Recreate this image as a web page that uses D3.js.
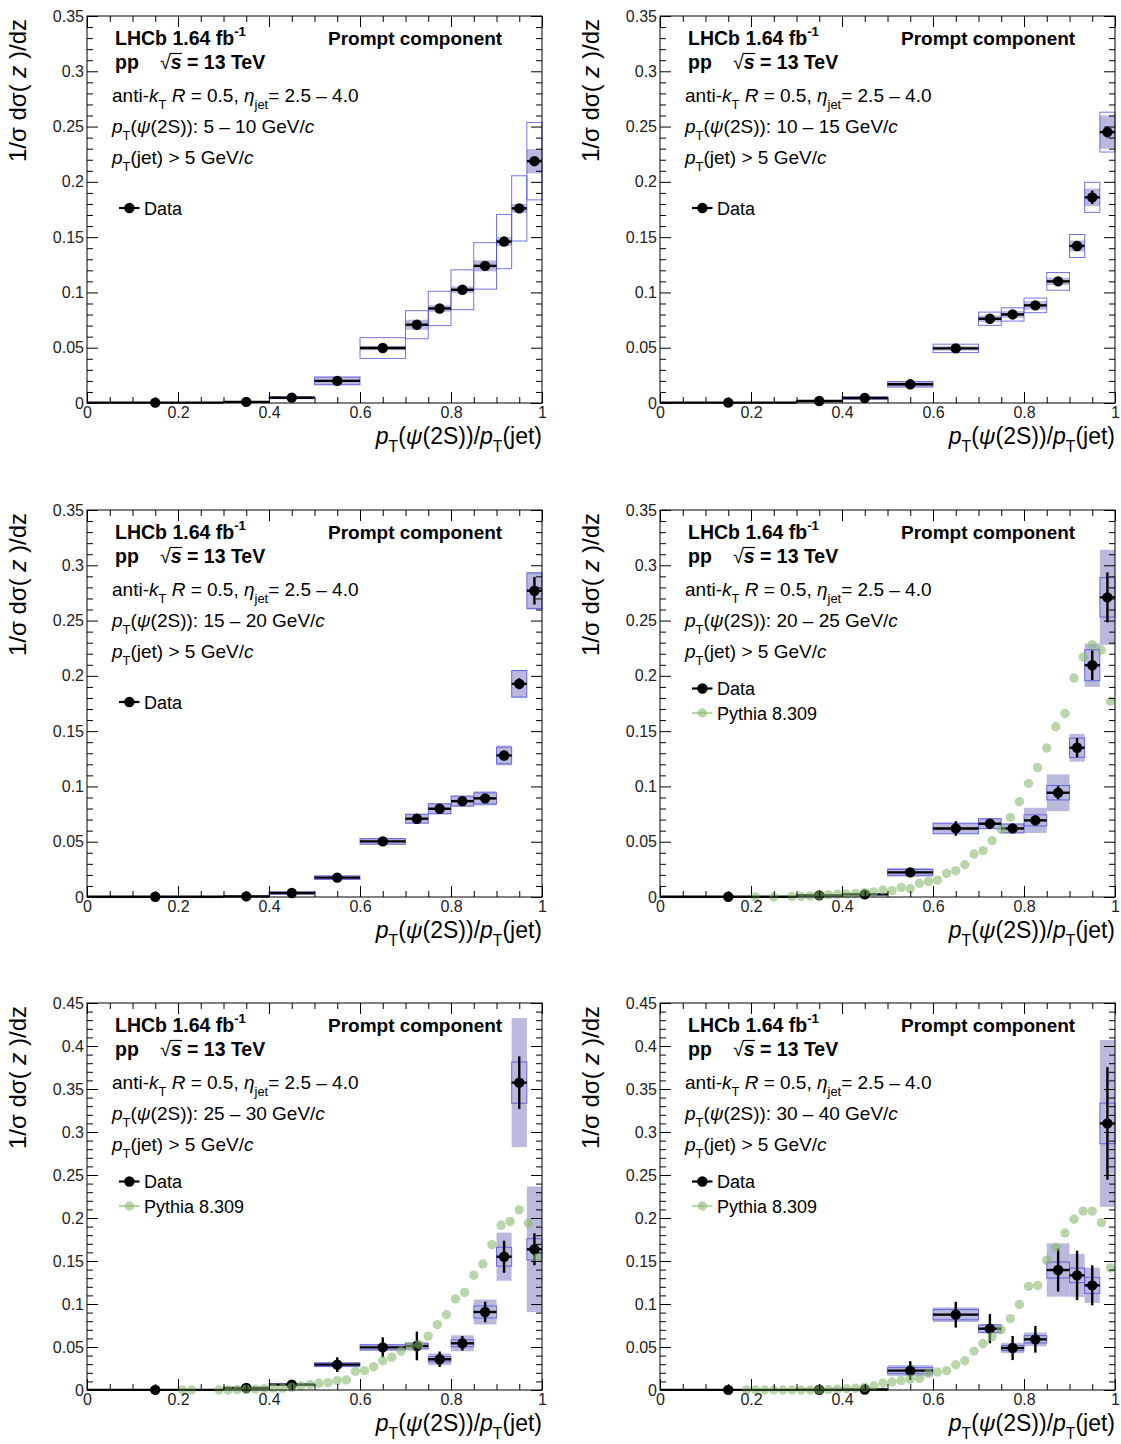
<!DOCTYPE html>
<html><head><meta charset="utf-8">
<script src="https://cdn.jsdelivr.net/npm/d3@7"></script>
<style>
body{margin:0;background:#fff}
svg{display:block}
text{font-family:"Liberation Sans",Arial,Helvetica,sans-serif}
</style>
</head><body>
<svg id="c" width="1121" height="1444"></svg>
<script>
// ---------------- data ----------------
const binEdges = [0, 0.3, 0.4, 0.5, 0.6, 0.7, 0.75, 0.8, 0.85, 0.9, 0.9333, 0.9667, 1.0];
const ptRanges = ["5 – 10", "10 – 15", "15 – 20", "20 – 25", "25 – 30", "30 – 40"];
const yMaxima = [0.35, 0.35, 0.35, 0.35, 0.45, 0.45];
const xTickLabels = ["0", "0.2", "0.4", "0.6", "0.8", "1"];
const yTickLabels35 = ["0", "0.05", "0.1", "0.15", "0.2", "0.25", "0.3", "0.35"];
const yTickLabels45 = ["0", "0.05", "0.1", "0.15", "0.2", "0.25", "0.3", "0.35", "0.4", "0.45"];

const values5to10  = [0.0003, 0.001, 0.0048, 0.020, 0.0497, 0.0708, 0.0855, 0.1024, 0.124, 0.146, 0.176, 0.2187];
const stat5to10    = [0, 0, 0.0005, 0.001, 0.0015, 0.002, 0.002, 0.0025, 0.003, 0.003, 0.0035, 0.004];
const sysFill5to10 = [0, 0.0003, 0.0012, 0.0038, 0.002, 0.0045, 0.003, 0.003, 0.005, 0.004, 0.004, 0.011];
const sysOpen5to10 = [0, 0.0002, 0.0008, 0.0035, 0.0094, 0.0127, 0.0155, 0.018, 0.021, 0.0245, 0.0295, 0.035];

const values10to15  = [0.0003, 0.0018, 0.0045, 0.0169, 0.0494, 0.0762, 0.0801, 0.0883, 0.110, 0.142, 0.186, 0.245];
const stat10to15    = [0, 0.0003, 0.0005, 0.001, 0.0015, 0.002, 0.002, 0.002, 0.003, 0.004, 0.006, 0.005];
const sysFill10to15 = [0, 0.0005, 0.001, 0.0025, 0.002, 0.003, 0.003, 0.0038, 0.0033, 0.005, 0.008, 0.015];
const sysOpen10to15 = [0, 0.0005, 0.001, 0.0025, 0.0038, 0.006, 0.006, 0.0066, 0.008, 0.0104, 0.0136, 0.018];

const values15to20  = [0.0002, 0.0006, 0.0036, 0.0175, 0.0503, 0.0708, 0.0798, 0.0867, 0.0892, 0.128, 0.1928, 0.277];
const stat15to20    = [0, 0.0003, 0.0005, 0.001, 0.0015, 0.002, 0.002, 0.0025, 0.003, 0.004, 0.005, 0.0125];
const sysFill15to20 = [0, 0.0003, 0.001, 0.002, 0.003, 0.0045, 0.005, 0.005, 0.0065, 0.009, 0.0125, 0.017];
const sysOpen15to20 = [0, 0.0003, 0.001, 0.0015, 0.0025, 0.004, 0.0045, 0.0045, 0.005, 0.0075, 0.012, 0.016];

const values20to25  = [0.0002, 0.0015, 0.0024, 0.0223, 0.062, 0.0663, 0.062, 0.0693, 0.0943, 0.135, 0.2096, 0.271];
const stat20to25    = [0, 0.0005, 0.0008, 0.003, 0.0066, 0.004, 0.004, 0.0045, 0.006, 0.0087, 0.0134, 0.0226];
const sysFill20to25 = [0, 0.0003, 0.0008, 0.004, 0.005, 0.005, 0.0045, 0.0114, 0.0166, 0.0126, 0.0196, 0.043];
const sysOpen20to25 = [0, 0.0003, 0.0005, 0.0026, 0.0048, 0.0045, 0.004, 0.005, 0.0065, 0.0087, 0.014, 0.0178];

const values25to30  = [0.0002, 0.0023, 0.0062, 0.0295, 0.0496, 0.0512, 0.0357, 0.0543, 0.0907, 0.155, 0.3574, 0.1636];
const stat25to30    = [0, 0.001, 0.002, 0.0085, 0.0116, 0.0167, 0.009, 0.0085, 0.012, 0.0186, 0.0306, 0.0186];
const sysFill25to30 = [0, 0.0005, 0.001, 0.003, 0.004, 0.004, 0.0068, 0.0093, 0.0145, 0.028, 0.075, 0.073];
const sysOpen25to30 = [0, 0.0005, 0.001, 0.002, 0.003, 0.0033, 0.003, 0.004, 0.007, 0.011, 0.024, 0.0124];

const values30to40  = [0.0002, 0.0003, 0.0005, 0.0225, 0.0876, 0.0713, 0.0488, 0.0589, 0.1395, 0.1333, 0.1217, 0.310];
const stat30to40    = [0, 0.0005, 0.001, 0.011, 0.015, 0.017, 0.014, 0.0155, 0.025, 0.0287, 0.0233, 0.0655];
const sysFill30to40 = [0, 0.0003, 0.0005, 0.0065, 0.0085, 0.0055, 0.006, 0.008, 0.031, 0.025, 0.0205, 0.097];
const sysOpen30to40 = [0, 0.0003, 0.0005, 0.0035, 0.006, 0.0043, 0.003, 0.0043, 0.0093, 0.0085, 0.0093, 0.0236];

const pythiaX = [0.19, 0.21, 0.23, 0.25, 0.27, 0.29, 0.31, 0.33, 0.35, 0.37, 0.39, 0.41, 0.43, 0.45, 0.47, 0.49,
  0.51, 0.53, 0.55, 0.57, 0.59, 0.61, 0.63, 0.65, 0.67, 0.69, 0.71, 0.73, 0.75, 0.77, 0.79,
  0.81, 0.83, 0.85, 0.87, 0.89, 0.91, 0.93, 0.95, 0.97, 0.99];
const pythia20to25 = [null, 0.0, null, 0.0, null, 0.0005, 0.0005, 0.001, 0.0015, 0.002, 0.0025, 0.0027, 0.0033, 0.004, 0.0045, 0.0063,
  0.0057, 0.0087, 0.0075, 0.0123, 0.0141, 0.0153, 0.0214, 0.0238, 0.0292, 0.0389, 0.0419, 0.051, 0.061, 0.072, 0.0862,
  0.1028, 0.117, 0.1347, 0.154, 0.166, 0.198, 0.2168, 0.2282, 0.2234, 0.177];
const pythia25to30 = [null, 0.0, 0.0, null, null, 0.0, 0.0, 0.0005, 0.0008, 0.001, 0.0015, 0.0022, 0.0022, 0.003, 0.0047, 0.0062,
  0.0078, 0.0085, 0.0109, 0.0116, 0.0217, 0.0225, 0.0271, 0.034, 0.038, 0.045, 0.0504, 0.053, 0.0627, 0.076, 0.0875,
  0.106, 0.1135, 0.1335, 0.1465, 0.169, 0.1915, 0.196, 0.2095, 0.194, 0.1535];
const pythia30to40 = [0.0, 0.0, 0.0, 0.0, 0.0, 0.0, 0.0, 0.0, 0.0003, 0.0005, 0.001, 0.0015, 0.002, 0.003, 0.0047, 0.0078,
  0.0093, 0.0109, 0.0125, 0.0135, 0.0194, 0.0209, 0.0225, 0.0295, 0.034, 0.045, 0.054, 0.062, 0.07, 0.083, 0.0995,
  0.1205, 0.1215, 0.151, 0.166, 0.1825, 0.1985, 0.208, 0.208, 0.1946, 0.142];

// ---------------- layout ----------------
const colX = [87, 660];
const rowY = [16, 510, 1003];
const W = 455, H = 387;
const PY_FILL = "rgb(134,184,108)", PY_OP = 0.58;

const panels = [
  {range: ptRanges[0], ymax: yMaxima[0], yl: yTickLabels35, v: values5to10,  s: stat5to10,  f: sysFill5to10,  o: sysOpen5to10,  py: null},
  {range: ptRanges[1], ymax: yMaxima[1], yl: yTickLabels35, v: values10to15, s: stat10to15, f: sysFill10to15, o: sysOpen10to15, py: null},
  {range: ptRanges[2], ymax: yMaxima[2], yl: yTickLabels35, v: values15to20, s: stat15to20, f: sysFill15to20, o: sysOpen15to20, py: null},
  {range: ptRanges[3], ymax: yMaxima[3], yl: yTickLabels35, v: values20to25, s: stat20to25, f: sysFill20to25, o: sysOpen20to25, py: pythia20to25},
  {range: ptRanges[4], ymax: yMaxima[4], yl: yTickLabels45, v: values25to30, s: stat25to30, f: sysFill25to30, o: sysOpen25to30, py: pythia25to30},
  {range: ptRanges[5], ymax: yMaxima[5], yl: yTickLabels45, v: values30to40, s: stat30to40, f: sysFill30to40, o: sysOpen30to40, py: pythia30to40}
];

const svg = d3.select("#c");

function rich(g, x, y, segs, size, opts = {}) {
  const t = g.append("text").attr("x", x).attr("y", y).attr("font-size", size).attr("fill", "#000");
  if (opts.anchor) t.attr("text-anchor", opts.anchor);
  if (opts.weight) t.attr("font-weight", opts.weight);
  if (opts.transform) t.attr("transform", opts.transform);
  let shift = 0;
  segs.forEach(s => {
    const o = (typeof s === "string") ? {t: s} : s;
    const target = o.sub ? size * 0.36 : (o.sup ? -size * 0.42 : 0);
    const ts = t.append("tspan").text(o.t);
    if (target !== shift) { ts.attr("dy", (target - shift).toFixed(2)); shift = target; }
    if (o.sub || o.sup) ts.attr("font-size", (size * 0.68).toFixed(1));
    if (o.i) ts.attr("font-style", "italic");
    if (o.w) ts.attr("font-weight", o.w);
  });
  return t;
}

panels.forEach((p, k) => {
  const x0 = colX[k % 2], y0 = rowY[Math.floor(k / 2)];
  const root = svg.append("g").attr("transform", `translate(${x0},${y0})`);
  const x = d3.scaleLinear().domain([0, 1]).range([0, W]);
  const y = d3.scaleLinear().domain([0, p.ymax]).range([H, 0]);
  const lo = i => binEdges[i], hi = i => binEdges[i + 1];
  const ctr = i => (binEdges[i] + binEdges[i + 1]) / 2;
  const idx = p.v.map((d, i) => i);

  // filled systematic boxes
  root.append("g").selectAll("rect").data(idx.filter(i => p.f[i] > 0)).join("rect")
    .attr("x", i => x(lo(i))).attr("width", i => x(hi(i)) - x(lo(i)))
    .attr("y", i => y(p.v[i] + p.f[i]))
    .attr("height", i => Math.max(1, y(p.v[i] - p.f[i]) - y(p.v[i] + p.f[i])))
    .attr("fill", "rgb(100,100,180)").attr("fill-opacity", 0.45);
  // open systematic boxes
  root.append("g").selectAll("rect").data(idx.filter(i => p.o[i] > 0)).join("rect")
    .attr("x", i => x(lo(i))).attr("width", i => x(hi(i)) - x(lo(i)))
    .attr("y", i => y(p.v[i] + p.o[i]))
    .attr("height", i => Math.max(1, y(p.v[i] - p.o[i]) - y(p.v[i] + p.o[i])))
    .attr("fill", "none").attr("stroke", "rgb(70,70,225)").attr("stroke-opacity", 0.75).attr("stroke-width", 1);

  // data: horizontal bin bars, stat bars, markers
  const dg = root.append("g");
  dg.selectAll("line.h").data(idx).join("line").attr("class", "h")
    .attr("x1", i => x(lo(i))).attr("x2", i => x(hi(i)))
    .attr("y1", i => y(p.v[i])).attr("y2", i => y(p.v[i]))
    .attr("stroke", "#000").attr("stroke-width", 2.4);
  dg.selectAll("line.v").data(idx.filter(i => p.s[i] > 0)).join("line").attr("class", "v")
    .attr("x1", i => x(ctr(i))).attr("x2", i => x(ctr(i)))
    .attr("y1", i => y(p.v[i] - p.s[i])).attr("y2", i => y(p.v[i] + p.s[i]))
    .attr("stroke", "#000").attr("stroke-width", 2.4);
  dg.selectAll("circle").data(idx).join("circle")
    .attr("cx", i => x(ctr(i))).attr("cy", i => y(p.v[i])).attr("r", 5.2).attr("fill", "#000");

  // pythia
  if (p.py) {
    root.append("g").selectAll("circle")
      .data(pythiaX.map((xv, i) => [xv, p.py[i]]).filter(d => d[1] !== null)).join("circle")
      .attr("cx", d => x(d[0])).attr("cy", d => y(d[1])).attr("r", 4.7)
      .attr("fill", PY_FILL).attr("fill-opacity", PY_OP);
  }

  // axes
  const axStyle = a => a.attr("font-size", 16).attr("font-family", '"Liberation Sans", Arial, sans-serif')
    .call(s => s.select(".domain").remove()).call(s => s.selectAll("line").attr("stroke", "#000"));
  const xMajor = xTickLabels.map(Number);
  const xMinor = d3.range(0, 1.0001, 0.05).filter(v => Math.abs(v * 5 - Math.round(v * 5)) > 1e-6);
  const yMajor = p.yl.map(Number);
  const yMinor = d3.range(0, Math.round(p.ymax * 100) + 1).map(v => v / 100).filter(v => Math.abs(v * 20 - Math.round(v * 20)) > 1e-6);

  root.append("g").attr("transform", `translate(0,${H})`)
    .call(d3.axisBottom(x).tickValues(xMajor).tickSize(-11).tickPadding(4).tickFormat((d, i) => xTickLabels[i])).call(axStyle);
  root.append("g").attr("transform", `translate(0,${H})`)
    .call(d3.axisBottom(x).tickValues(xMinor).tickSize(-6).tickFormat("")).call(axStyle);
  root.append("g").call(d3.axisTop(x).tickValues(xMajor).tickSize(-11).tickFormat("")).call(axStyle);
  root.append("g").call(d3.axisTop(x).tickValues(xMinor).tickSize(-6).tickFormat("")).call(axStyle);
  root.append("g").call(d3.axisLeft(y).tickValues(yMajor).tickSize(-11).tickPadding(3).tickFormat((d, i) => p.yl[i])).call(axStyle);
  root.append("g").call(d3.axisLeft(y).tickValues(yMinor).tickSize(-6).tickFormat("")).call(axStyle);
  root.append("g").attr("transform", `translate(${W},0)`).call(d3.axisRight(y).tickValues(yMajor).tickSize(-11).tickFormat("")).call(axStyle);
  root.append("g").attr("transform", `translate(${W},0)`).call(d3.axisRight(y).tickValues(yMinor).tickSize(-6).tickFormat("")).call(axStyle);
  root.selectAll(".tick text").attr("fill", "#222");

  root.append("rect").attr("x", 0).attr("y", 0).attr("width", W).attr("height", H)
    .attr("fill", "none").attr("stroke", "#000").attr("stroke-width", 1);

  // axis titles
  rich(root, -61, 3, ["1/σ dσ( ", {t: "z", i: true}, " )/dz"], 24, {anchor: "end", transform: "rotate(-90,-61,3)"});
  rich(root, W, H + 41, [{t: "p", i: true}, {t: "T", sub: true}, "(", {t: "ψ", i: true}, "(2S))/", {t: "p", i: true}, {t: "T", sub: true}, "(jet)"], 23, {anchor: "end"});

  // header texts
  rich(root, 28, 28.5, ["LHCb 1.64 fb", {t: "-1", sup: true}], 19.5, {weight: "bold"});
  rich(root, 241, 28.5, ["Prompt component"], 19, {weight: "bold"});
  rich(root, 28, 52.5, ["pp"], 19.5, {weight: "bold"});
  const sq = root.append("text").attr("x", 73).attr("y", 52.5).attr("font-size", 19.5).attr("fill", "#000");
  sq.append("tspan").text("√");
  sq.append("tspan").attr("font-weight", "bold").attr("font-style", "italic").text("s");
  sq.append("tspan").attr("font-weight", "bold").text(" = 13 TeV");
  const node = sq.node();
  const wR = node.getSubStringLength(0, 1), wS = node.getSubStringLength(1, 1);
  root.append("line").attr("x1", 73 + wR - 1).attr("x2", 73 + wR + wS + 0.5)
    .attr("y1", 52.5 - 15).attr("y2", 52.5 - 15).attr("stroke", "#000").attr("stroke-width", 1.2);

  rich(root, 25, 86, ["anti-", {t: "k", i: true}, {t: "T", sub: true}, " ", {t: "R", i: true}, " = 0.5, ", {t: "η", i: true}, {t: "jet", sub: true}, "= 2.5 – 4.0"], 19);
  rich(root, 25, 117, [{t: "p", i: true}, {t: "T", sub: true}, "(", {t: "ψ", i: true}, "(2S)): " + p.range + " GeV/", {t: "c", i: true}], 19);
  rich(root, 25, 148, [{t: "p", i: true}, {t: "T", sub: true}, "(jet) > 5 GeV/", {t: "c", i: true}], 19);

  // legend
  const ly = p.py ? 178.5 : 192;
  root.append("line").attr("x1", 32).attr("x2", 52.5).attr("y1", ly).attr("y2", ly).attr("stroke", "#000").attr("stroke-width", 2.2);
  root.append("circle").attr("cx", 42.4).attr("cy", ly).attr("r", 5.2).attr("fill", "#000");
  rich(root, 57, ly + 6.5, ["Data"], 18);
  if (p.py) {
    const ly2 = ly + 24.5;
    root.append("line").attr("x1", 32).attr("x2", 52.5).attr("y1", ly2).attr("y2", ly2)
      .attr("stroke", PY_FILL).attr("stroke-opacity", PY_OP).attr("stroke-width", 2.2);
    root.append("circle").attr("cx", 42.4).attr("cy", ly2).attr("r", 4.7).attr("fill", PY_FILL).attr("fill-opacity", PY_OP);
    rich(root, 57, ly2 + 6.5, ["Pythia 8.309"], 18);
  }
});
</script>
</body></html>
